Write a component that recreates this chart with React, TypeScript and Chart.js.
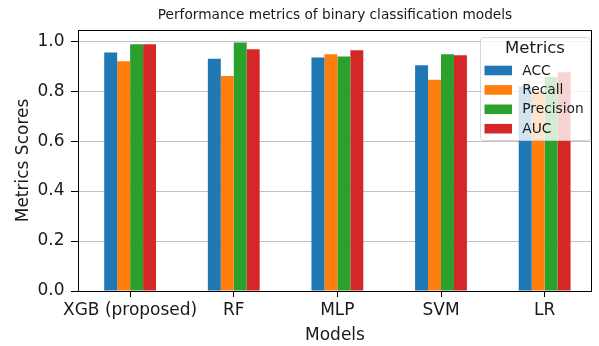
import React, { useEffect, useRef } from 'react';
import { Chart, registerables } from 'chart.js';

Chart.register(...registerables);

const categories = ['XGB (proposed)', 'RF', 'MLP', 'SVM', 'LR'];
const seriesNames = ['ACC', 'Recall', 'Precision', 'AUC'];
const accValues = [0.955, 0.93, 0.935, 0.904, 0.82];
const recallValues = [0.92, 0.861, 0.948, 0.846, 0.8];
const precisionValues = [0.988, 0.995, 0.939, 0.948, 0.857];
const aucValues = [0.988, 0.968, 0.964, 0.944, 0.876];
const yTickValues = [0, 0.2, 0.4, 0.6, 0.8, 1.0];
const seriesColors = ['#1f77b4', '#ff7f0e', '#2ca02c', '#d62728'];

const FONT = '"DejaVu Sans", "Liberation Sans", sans-serif';
const TEXT = '#1a1a1a';

const framePlugin = {
  id: 'mplFrame',
  afterDatasetsDraw(chart: any) {
    const { ctx, chartArea: ca } = chart;
    ctx.save();
    ctx.strokeStyle = '#000';
    ctx.lineWidth = 1;
    const l = Math.round(ca.left) + 0.5;
    const r = Math.round(ca.right) - 0.5;
    const t = Math.round(ca.top) + 0.5;
    const b = Math.round(ca.bottom) + 0.5;
    ctx.strokeRect(l, t, r - l, b - t);
    ctx.restore();
  },
};

const legendPlugin = {
  id: 'mplLegend',
  afterDraw(chart: any) {
    const { ctx, chartArea: ca } = chart;
    const w = 110;
    const h = 103;
    const x = Math.round(ca.right - 2 - w);
    const y = Math.round(ca.top + 7.5);
    ctx.save();
    ctx.beginPath();
    ctx.roundRect(x + 0.5, y + 0.5, w, h, 3);
    ctx.fillStyle = 'rgba(255,255,255,0.8)';
    ctx.fill();
    ctx.strokeStyle = 'rgba(204,204,204,0.8)';
    ctx.lineWidth = 1;
    ctx.stroke();
    ctx.fillStyle = TEXT;
    ctx.textBaseline = 'middle';
    ctx.textAlign = 'center';
    ctx.font = `16.5px ${FONT}`;
    ctx.fillText('Metrics', x + w / 2, y + 11.5);
    ctx.textAlign = 'left';
    ctx.font = `13.8px ${FONT}`;
    chart.data.datasets.forEach((ds: any, i: number) => {
      const cy = y + 33.5 + i * 19.4;
      ctx.fillStyle = ds.backgroundColor;
      ctx.fillRect(x + 4.5, cy - 4.8, 27.5, 9.6);
      ctx.fillStyle = TEXT;
      ctx.fillText(ds.label, x + 42.2, cy + 0.5);
    });
    ctx.restore();
  },
};

export default function App() {
  const canvasRef = useRef<HTMLCanvasElement | null>(null);

  useEffect(() => {
    if (!canvasRef.current) return;
    const seriesValues = [accValues, recallValues, precisionValues, aucValues];
    const chart = new Chart(canvasRef.current, {
      type: 'bar',
      data: {
        datasets: seriesNames.map((name, s) => ({
          label: name,
          data: seriesValues[s].map((v, i) => ({ x: i, y: v })),
          backgroundColor: seriesColors[s],
          borderWidth: 0,
          categoryPercentage: 0.5,
          barPercentage: 1.0,
        })),
      },
      options: {
        animation: false,
        responsive: true,
        maintainAspectRatio: false,
        layout: { padding: { left: 0, right: 7, top: 0, bottom: 0 } },
        plugins: {
          legend: { display: false },
          tooltip: { enabled: false },
          title: {
            display: true,
            text: 'Performance metrics of binary classification models',
            fullSize: false,
            color: TEXT,
            font: { family: FONT, size: 13.7, weight: 'normal' },
            padding: { top: 7, bottom: 6.5 },
          },
        },
        scales: {
          x: {
            type: 'linear',
            min: -0.503,
            max: 4.457,
            offset: false,
            afterBuildTicks: (scale: any) => {
              scale.ticks = categories.map((_, i) => ({ value: i }));
            },
            afterFit: (scale: any) => {
              scale.height = 55;
            },
            ticks: {
              autoSkip: false,
              maxRotation: 0,
              minRotation: 0,
              padding: 3,
              color: TEXT,
              font: { family: FONT, size: 17 },
              callback: (value: any) => categories[value] ?? '',
            },
            grid: {
              offset: false,
              drawOnChartArea: false,
              drawTicks: true,
              tickLength: 6,
              tickColor: '#000',
              tickWidth: 1,
            },
            border: { display: false },
            title: {
              display: true,
              text: 'Models',
              color: TEXT,
              font: { family: FONT, size: 17 },
              padding: { top: 0, bottom: 0.5 },
            },
          },
          y: {
            type: 'linear',
            min: 0,
            max: 1.045,
            afterBuildTicks: (scale: any) => {
              scale.ticks = yTickValues.map((v) => ({ value: v }));
            },
            afterFit: (scale: any) => {
              scale.width = 78;
            },
            ticks: {
              padding: 6.5,
              color: TEXT,
              font: { family: FONT, size: 17 },
              callback: (value: any) => Number(value).toFixed(1),
            },
            grid: {
              color: '#b0b0b0',
              lineWidth: 0.8,
              drawTicks: true,
              tickLength: 7,
              tickColor: '#000',
              tickWidth: 1,
            },
            border: { display: false },
            title: {
              display: true,
              text: 'Metrics Scores',
              color: TEXT,
              font: { family: FONT, size: 17 },
              padding: { top: 13.3, bottom: 0 },
            },
          },
        },
      },
      plugins: [framePlugin, legendPlugin],
    } as any);
    return () => chart.destroy();
  }, []);

  return (
    <div style={{ position: 'fixed', left: 0, top: 0, width: 599, height: 346 }}>
      <canvas ref={canvasRef} />
    </div>
  );
}
